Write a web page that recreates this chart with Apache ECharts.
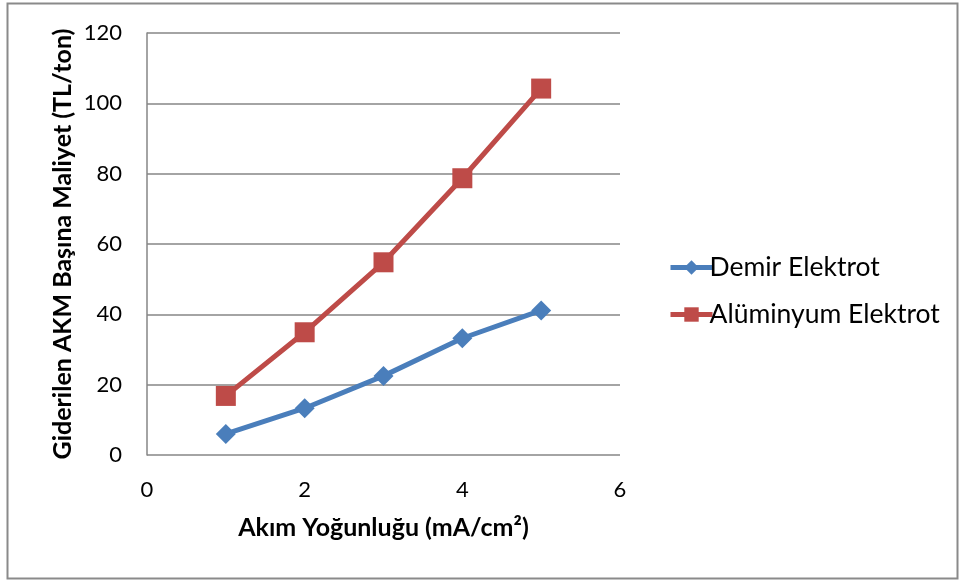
<!DOCTYPE html>
<html>
<head>
<meta charset="utf-8">
<script src="https://cdn.jsdelivr.net/npm/echarts@6/dist/echarts.min.js"></script>
<style>
  html, body { margin: 0; padding: 0; background: #fff; }
  #chart { width: 960px; height: 581px; }
</style>
</head>
<body>
<div id="chart"></div>
<script>
// Current density (mA/cm²)
const currentDensity = [1, 2, 3, 4, 5];
// Cost per removed suspended solids (TL/ton)
const demirValues = [6.0, 13.3, 22.5, 33.2, 41.1];
const aluminyumValues = [16.8, 34.9, 54.8, 78.7, 104.2];
const seriesNames = ['Demir Elektrot', 'Alüminyum Elektrot'];

const FONT = 'Lato, "Open Sans", "Liberation Sans", sans-serif';

const chart = echarts.init(document.getElementById('chart'), null, { renderer: 'canvas' });

function pairs(xs, ys) { return xs.map((x, i) => [x, ys[i]]); }

chart.setOption({
  animation: false,
  backgroundColor: '#ffffff',
  graphic: [{
    type: 'rect',
    shape: { x: 7.5, y: 3.5, width: 950, height: 575 },
    style: { fill: 'none', stroke: '#8a8a8a', lineWidth: 2 },
    silent: true
  }],
  grid: { left: 147, right: 340, top: 33, bottom: 126, containLabel: false },
  xAxis: {
    type: 'value', min: 0, max: 6, interval: 2,
    name: 'Akım Yoğunluğu (mA/cm²)',
    nameLocation: 'middle', nameGap: 60,
    nameTextStyle: { fontFamily: FONT, fontSize: 25, fontWeight: 'bold', color: '#000' },
    axisLine: { show: false },
    axisTick: { show: false },
    splitLine: { show: false },
    axisLabel: { fontFamily: FONT, fontSize: 22, color: '#000', margin: 24 }
  },
  yAxis: {
    type: 'value', min: 0, max: 120, interval: 20,
    name: 'Giderilen AKM Başına Maliyet (TL/ton)',
    nameLocation: 'middle', nameGap: 72, nameRotate: 90,
    nameTextStyle: { fontFamily: FONT, fontSize: 25, fontWeight: 'bold', color: '#000' },
    axisLine: { show: true, lineStyle: { color: '#868686', width: 1.5 } },
    axisTick: { show: false },
    splitLine: { show: true, lineStyle: { color: '#868686', width: 1.5 } },
    axisLabel: { fontFamily: FONT, fontSize: 22, color: '#000', margin: 25 }
  },
  legend: {
    orient: 'vertical',
    left: 663, top: 249,
    itemWidth: 42, itemHeight: 18, itemGap: 20,
    lineStyle: { width: 5 },
    textStyle: { fontFamily: FONT, fontSize: 26.5, color: '#000', padding: [0, 0, 0, -8] },
    data: seriesNames
  },
  series: [
    {
      name: seriesNames[0], type: 'line',
      data: pairs(currentDensity, demirValues),
      symbol: 'diamond', symbolSize: [20, 20],
      lineStyle: { color: '#4A7EBB', width: 5 },
      itemStyle: { color: '#4A7EBB' }
    },
    {
      name: seriesNames[1], type: 'line',
      data: pairs(currentDensity, aluminyumValues),
      symbol: 'rect', symbolSize: 20,
      lineStyle: { color: '#BE4B48', width: 5 },
      itemStyle: { color: '#BE4B48' }
    }
  ]
});
</script>
</body>
</html>
